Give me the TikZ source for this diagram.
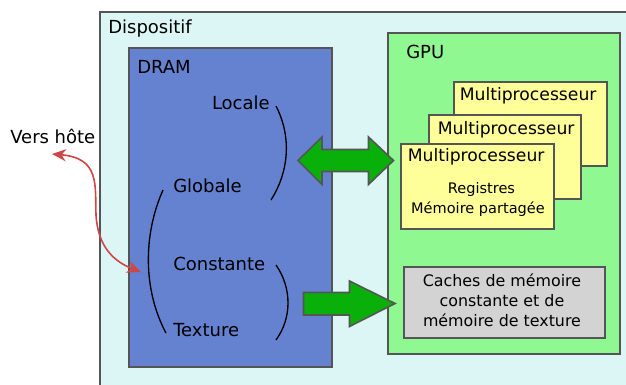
\documentclass[tikz,border=0pt]{standalone}
\usepackage{fontspec}
\setmainfont{DejaVu Sans}
\usetikzlibrary{fit,arrows.meta}
\definecolor{devcyan}{HTML}{DCF6F6}
\definecolor{dramblue}{HTML}{6482D0}
\definecolor{gpugreen}{HTML}{90F890}
\definecolor{mpyellow}{HTML}{FFFF99}
\definecolor{cachegray}{HTML}{D3D3D3}
\definecolor{arrgreen}{HTML}{0AB00A}
\definecolor{hostred}{HTML}{D04545}
\definecolor{edgegray}{HTML}{555555}
\tikzset{
  box/.style={draw=edgegray, line width=1pt, inner sep=0pt},
  lbl/.style={anchor=base west, inner sep=0pt, font=\fontsize{13.5}{16}\selectfont},
  mptitle/.style={anchor=base west, inner sep=0pt, font=\fontsize{12.9}{15}\selectfont},
  small/.style={anchor=base, inner sep=0pt, font=\fontsize{10.9}{13}\selectfont},
  bracket/.style={draw=black, line width=1pt},
  bigarrow/.style={fill=arrgreen, draw=edgegray, line width=1.2pt, line join=miter},
  redarrow/.style={draw=hostred, line width=1.2pt, {Stealth[length=10.5pt,width=9pt]}-{Stealth[length=10.5pt,width=9pt]}},
}
\begin{document}
\begin{tikzpicture}[x=0.75pt,y=-0.75pt]
\useasboundingbox (0,0) rectangle (626,385);
\clip (0,0) rectangle (626,385);
% Device
\node[box, fill=devcyan, fit={(100,12) (640,400)}] (dev) {};
\node[lbl] (devlbl) at (108,34) {Dispositif};
% DRAM
\node[box, fill=dramblue, fit={(129,48) (332,367)}] (dram) {};
\node[lbl] (dramlbl) at (137,74) {DRAM};
\node[lbl, anchor=base east] (loc) at (270,110) {Locale};
\node[lbl] (glob) at (173,193) {Globale};
\node[lbl] (const) at (173,271) {Constante};
\node[lbl] (tex) at (173,336) {Texture};
\draw[bracket] (276,106) .. controls (291,135) and (290,170) .. (271,200);
\draw[bracket] (163,190) .. controls (143,235) and (143,290) .. (166,333);
\draw[bracket] (276,265) .. controls (292,288) and (292,318) .. (276,340);
% GPU
\node[box, fill=gpugreen, fit={(388,33) (620,354)}] (gpu) {};
\node[lbl] (gpulbl) at (406,59) {GPU};
\node[box, fill=mpyellow, fit={(454,82) (607,166)}] (mp3) {};
\node[mptitle] at (459.5,101) {Multiprocesseur};
\node[box, fill=mpyellow, fit={(429,115) (581,199)}] (mp2) {};
\node[mptitle] at (437.5,135) {Multiprocesseur};
\node[box, fill=mpyellow, fit={(401,144) (554,229)}] (mp1) {};
\node[mptitle] at (407.5,162) {Multiprocesseur};
\node[small] (reg) at (481.5,193.5) {Registres};
\node[small] (shm) at (478,214) {Mémoire partagée};
\node[box, fill=cachegray, fit={(404,267) (605,338)}] (cache) {};
\node[anchor=base, inner sep=0pt, align=center, font=\fontsize{11.9}{15}\selectfont] (cachetxt) at (502,326)
  {Caches de mémoire\\constante et de\\mémoire de texture};
% green arrows
\draw[bigarrow] (298,160.5) -- (322,137) -- (322,149.5) -- (368.5,149.5) -- (368.5,137)
  -- (393.5,160.5) -- (368.5,184.5) -- (368.5,171.5) -- (322,171.5) -- (322,184.5) -- cycle;
\draw[bigarrow] (303.5,292.5) -- (349.5,292.5) -- (349.5,281) -- (395,303.5) -- (349.5,326.5)
  -- (349.5,315) -- (303.5,315) -- cycle;
% host
\node[lbl] (host) at (10,144) {Vers hôte};
\coordinate (hostend) at (52,154);
\coordinate (dramend) at (141,272);
\draw[redarrow] (hostend) .. controls (100,158) and (95,185) .. (96,215)
  .. controls (98,248) and (115,262) .. (dramend);
\end{tikzpicture}
\end{document}
